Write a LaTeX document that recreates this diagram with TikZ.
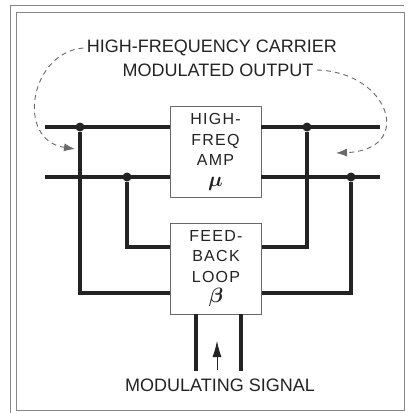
\documentclass[tikz,border=0pt]{standalone}
\usepackage{fontspec}
\setmainfont{Liberation Sans}
\usepackage{amsmath,bm}
\usetikzlibrary{arrows.meta}
\definecolor{inkgray}{RGB}{35,35,35}
\definecolor{boxgray}{RGB}{105,105,105}
\tikzset{
  wire/.style={line width=3.2pt,inkgray},
  blk/.style={draw=boxgray,line width=0.9pt,fill=white,minimum width=91pt,minimum height=91pt,align=center,inner sep=0pt,font=\fontsize{16}{20.5}\selectfont\addfontfeatures{LetterSpace=8},text=inkgray},
  jdot/.style={circle,fill=inkgray,inner sep=0pt,minimum size=9pt},
  lbl/.style={font=\fontsize{18}{22}\selectfont,text=inkgray},
  cue/.style={dash pattern=on 5pt off 4pt,line width=0.9pt,boxgray,-{Latex[length=11pt,width=8pt]}},
  rim/.style={line width=0.8pt,boxgray!80}
}
\newcommand{\sym}[1]{{\fontsize{20}{20.5}\selectfont$\bm{#1}$}}

\begin{document}
\begin{tikzpicture}[x=1pt,y=-1pt]
  \useasboundingbox (0,0) rectangle (410,413);
  % frame
  \draw[rim] (16,12) rectangle (404,410);
  \draw[rim] (10,413) -- (10,5) -- (404,5);
  % blocks
  \node[blk] (amp) at (215.5,152) {HIGH-\\FREQ\\AMP\\\sym{\mu}};
  \node[blk] (fbk) at (216,268.5) {FEED-\\BACK\\LOOP\\\sym{\beta}};
  % carrier lines
  \coordinate (tin) at (45,127); \coordinate (tout) at (380,127);
  \coordinate (bin) at (45,177); \coordinate (bout) at (380,177);
  \draw[wire] (tin) -- (amp.west |- tin); \draw[wire] (amp.east |- tout) -- (tout);
  \draw[wire] (bin) -- (amp.west |- bin); \draw[wire] (amp.east |- bout) -- (bout);
  \node[jdot] (ja) at (80,127) {}; \node[jdot] (jc) at (307,127) {};
  \node[jdot] (jb) at (127,177) {}; \node[jdot] (jd) at (351,177) {};
  % feedback taps
  \draw[wire] (ja) |- (fbk.west |- 0,293);
  \draw[wire] (jb) |- (fbk.west |- 0,247);
  \draw[wire] (jc) |- (fbk.east |- 0,247);
  \draw[wire] (jd) |- (fbk.east |- 0,293);
  % modulating input
  \coordinate (ma) at (196,371); \coordinate (mb) at (241,371);
  \draw[wire] (fbk.south -| ma) -- (ma); \draw[wire] (fbk.south -| mb) -- (mb);
  \coordinate (mtail) at (217,370); \coordinate (mtip) at (217,341);
  \draw[line width=0.8pt,inkgray,-{Latex[length=16pt,width=9pt]}] (mtail) -- (mtip);
  % labels
  \node[lbl] (hf) at (212,48) {HIGH-FREQUENCY CARRIER};
  \node[lbl] (mo) at (218,70) {MODULATED OUTPUT};
  \node[lbl] (ms) at (220,385) {MODULATING SIGNAL};
  \coordinate (la) at (75,149); \coordinate (ra) at (336,153);
  \draw[cue] (hf.west) .. controls (30,52) and (15,140) .. (la);
  \draw[cue] (mo.east) .. controls (390,72) and (415,150) .. (ra);
\end{tikzpicture}
\end{document}
